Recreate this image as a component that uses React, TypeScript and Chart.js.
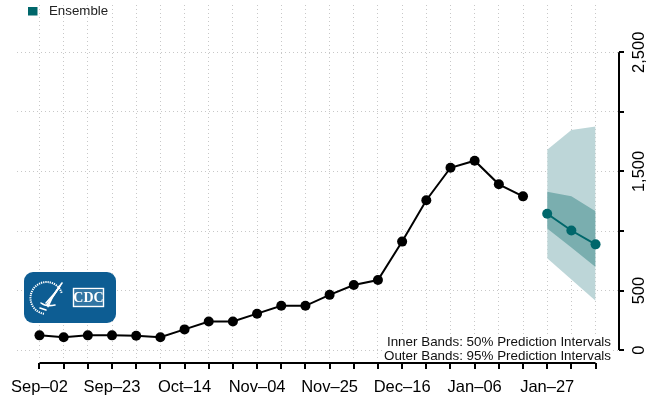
import React, { useEffect, useRef } from 'react';
import { Chart, registerables } from 'chart.js';

Chart.register(...registerables);

// ---- data ----
const weekLabels = [
  'Sep–02', 'Sep–09', 'Sep–16', 'Sep–23', 'Sep–30', 'Oct–07', 'Oct–14', 'Oct–21',
  'Oct–28', 'Nov–04', 'Nov–11', 'Nov–18', 'Nov–25', 'Dec–02', 'Dec–09', 'Dec–16',
  'Dec–23', 'Dec–30', 'Jan–06', 'Jan–13', 'Jan–20', 'Jan–27', 'Feb–03', 'Feb–10',
];
const labelEvery = 3;
const observed = [124, 108, 124, 124, 120, 108, 174, 240, 240, 306, 372, 372, 464, 546, 588, 911, 1258, 1531, 1590, 1392, 1291];
const forecastStart = 21;
const forecastMedian = [1145, 1004, 888];
const inner50Upper = [1330, 1291, 1165];
const inner50Lower = [1021, 861, 698];
const outer95Upper = [1683, 1849, 1877];
const outer95Lower = [772, 593, 414];
const yTickValues = [0, 500, 1000, 1500, 2000, 2500];
const yTickLabels = ['0', '500', '', '1,500', '', '2,500'];
const legendLabel = 'Ensemble';
const noteLines = ['Inner Bands: 50% Prediction Intervals', 'Outer Bands: 95% Prediction Intervals'];

const TEAL = '#00676b';
const INNER = '#7aaeaf';
const OUTER = '#bdd6d8';
const FONT = '"Liberation Sans", Arial, Helvetica, sans-serif';

const obsPts = observed.map((v, i) => ({ x: i, y: v }));
const fc = (arr: number[]) => arr.map((v, i) => ({ x: forecastStart + i, y: v }));

const overlayPlugin = {
  id: 'overlay',
  afterDraw(chart: any) {
    const ctx = chart.ctx as CanvasRenderingContext2D;
    const xs = chart.scales.x;
    const ys = chart.scales.y;
    const area = chart.chartArea;
    ctx.save();

    // note box
    ctx.fillStyle = '#ffffff';
    ctx.fillRect(384, 334, 229, 28);
    ctx.fillStyle = '#111';
    ctx.font = `13.4px ${FONT}`;
    ctx.textAlign = 'right';
    ctx.textBaseline = 'middle';
    ctx.fillText(noteLines[0], 611, 342.5);
    ctx.fillText(noteLines[1], 611, 356);

    // x axis
    const axY = area.bottom + 5;
    const x0 = xs.getPixelForValue(0);
    const x1 = xs.getPixelForValue(weekLabels.length - 1);
    ctx.strokeStyle = '#000';
    ctx.lineWidth = 2;
    ctx.beginPath();
    ctx.moveTo(x0, axY);
    ctx.lineTo(x1, axY);
    weekLabels.forEach((_, i) => {
      const px = Math.round(xs.getPixelForValue(i));
      ctx.moveTo(px, axY);
      ctx.lineTo(px, axY + 6);
    });
    ctx.stroke();
    ctx.fillStyle = '#000';
    ctx.font = `16.5px ${FONT}`;
    ctx.textAlign = 'center';
    ctx.textBaseline = 'middle';
    weekLabels.forEach((l, i) => {
      if (i % labelEvery === 0) ctx.fillText(l, xs.getPixelForValue(i), 387);
    });

    // y axis (right)
    const axX = area.right;
    ctx.beginPath();
    ctx.moveTo(axX, ys.getPixelForValue(yTickValues[0]));
    ctx.lineTo(axX, ys.getPixelForValue(yTickValues[yTickValues.length - 1]));
    yTickValues.forEach((v) => {
      const py = Math.round(ys.getPixelForValue(v));
      ctx.moveTo(axX, py);
      ctx.lineTo(axX + 5, py);
    });
    ctx.stroke();
    ctx.textAlign = 'center';
    ctx.textBaseline = 'alphabetic';
    yTickValues.forEach((v, i) => {
      if (!yTickLabels[i]) return;
      ctx.save();
      ctx.translate(644, ys.getPixelForValue(v));
      ctx.rotate(-Math.PI / 2);
      ctx.fillText(yTickLabels[i], 0, 0);
      ctx.restore();
    });

    // legend
    ctx.fillStyle = TEAL;
    ctx.fillRect(28, 7, 9.5, 8.5);
    ctx.fillStyle = '#222';
    ctx.font = `13.3px ${FONT}`;
    ctx.textAlign = 'left';
    ctx.textBaseline = 'middle';
    ctx.fillText(legendLabel, 49, 11.5);

    // CDC / HHS logo
    ctx.fillStyle = '#0d5d93';
    ctx.beginPath();
    (ctx as any).roundRect(24, 272, 92, 51, 9);
    ctx.fill();
    ctx.strokeStyle = '#ffffff';
    ctx.lineWidth = 2;
    ctx.setLineDash([1.3, 0.9]);
    ctx.beginPath();
    ctx.arc(46.5, 298, 16, Math.PI * 0.55, Math.PI * 1.9);
    ctx.stroke();
    ctx.setLineDash([]);
    ctx.lineWidth = 1.6;
    ctx.lineCap = 'round';
    for (let k = 0; k < 3; k++) {
      ctx.beginPath();
      ctx.moveTo(62 - k * 2.2, 283 + k * 3.2);
      ctx.quadraticCurveTo(55 - k * 2, 294 + k * 2, 46 + k, 303 + k * 1.8);
      ctx.stroke();
    }
    ctx.beginPath();
    ctx.moveTo(41, 303);
    ctx.quadraticCurveTo(46, 307, 55, 305);
    ctx.stroke();
    ctx.beginPath();
    ctx.moveTo(40, 308);
    ctx.lineTo(46, 310);
    ctx.stroke();
    // CDC box
    ctx.lineWidth = 1.4;
    ctx.strokeRect(73.5, 288.5, 30, 18);
    ctx.lineWidth = 0.6;
    ctx.globalAlpha = 0.5;
    for (let sy = 291; sy < 306; sy += 2) {
      ctx.beginPath();
      ctx.moveTo(74.5, sy);
      ctx.lineTo(102.5, sy);
      ctx.stroke();
    }
    ctx.globalAlpha = 1;
    ctx.fillStyle = '#ffffff';
    ctx.font = `bold 14px "Liberation Serif", "DejaVu Serif", serif`;
    ctx.textAlign = 'center';
    ctx.textBaseline = 'middle';
    ctx.fillText('CDC', 88.5, 298);

    ctx.restore();
  },
};

export default function App() {
  const ref = useRef<HTMLCanvasElement>(null);
  useEffect(() => {
    document.body.style.margin = '0';
    const canvas = ref.current!;
    const gridOpts = { color: '#c8c8c8', lineWidth: 1, drawTicks: false };
    const chart = new Chart(canvas, {
      type: 'line',
      data: {
        datasets: [
          {
            data: obsPts,
            borderColor: '#000',
            backgroundColor: '#000',
            borderWidth: 2,
            pointRadius: 5,
            pointBackgroundColor: '#000',
            pointBorderWidth: 0,
            fill: false,
            tension: 0,
          },
          {
            data: fc(forecastMedian),
            borderColor: TEAL,
            backgroundColor: TEAL,
            borderWidth: 2,
            pointRadius: 5,
            pointBackgroundColor: TEAL,
            pointBorderWidth: 0,
            fill: false,
            tension: 0,
          },
          { data: fc(inner50Upper), borderWidth: 0, pointRadius: 0, backgroundColor: INNER, fill: '+1' },
          { data: fc(inner50Lower), borderWidth: 0, pointRadius: 0, fill: false },
          { data: fc(outer95Upper), borderWidth: 0, pointRadius: 0, backgroundColor: OUTER, fill: '+1' },
          { data: fc(outer95Lower), borderWidth: 0, pointRadius: 0, fill: false },
        ] as any,
      },
      options: {
        responsive: false,
        animation: false,
        devicePixelRatio: 1,
        layout: { padding: { left: 17, right: 37, top: 0, bottom: 44 } },
        plugins: { legend: { display: false }, tooltip: { enabled: false } },
        scales: {
          x: {
            type: 'linear',
            min: -0.93,
            max: 23.97,
            afterBuildTicks: (s: any) => {
              s.ticks = weekLabels.map((_, i) => ({ value: i }));
            },
            ticks: { display: false },
            grid: gridOpts,
            border: { display: false, dash: [1, 3] },
          },
          y: {
            type: 'linear',
            min: -66.2,
            max: 2897.4,
            afterBuildTicks: (s: any) => {
              s.ticks = yTickValues.map((v) => ({ value: v }));
            },
            ticks: { display: false },
            grid: gridOpts,
            border: { display: false, dash: [1, 3] },
          },
        },
      } as any,
      plugins: [overlayPlugin],
    });
    return () => chart.destroy();
  }, []);
  return (
    <div style={{ position: 'absolute', left: 0, top: 0, width: 656, height: 402 }}>
      <canvas ref={ref} width={656} height={402} style={{ display: 'block' }} />
    </div>
  );
}
